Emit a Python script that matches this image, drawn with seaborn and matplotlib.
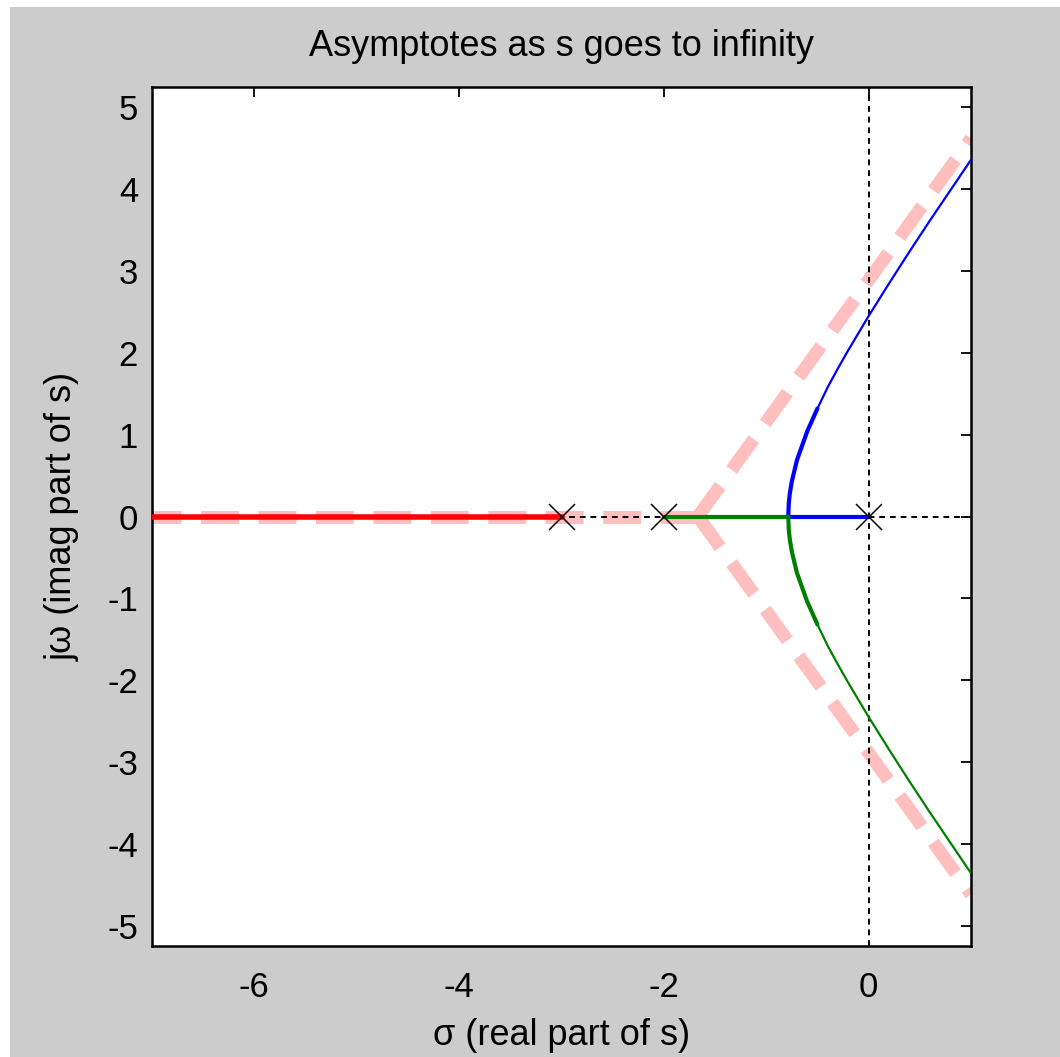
import numpy as np
import pandas as pd
import matplotlib
matplotlib.use("Agg")
import matplotlib.pyplot as plt
from matplotlib.patches import Rectangle
import seaborn as sns

# --- Data ---
poles = [0.0, -2.0, -3.0]
centroid = -1.667

# asymptotes (start at centroid, end at plot edge)
asym_x_end = [1.0, 1.0, -7.0]
asym_y_end = [4.62, -4.62, 0.0]

# real-axis segments of the locus
red_x = [-3.0, -7.0]
blue_real_x = [0.0, -0.785]
green_real_x = [-2.0, -0.785]

# complex branch (upper half)
branch_sigma = [-0.785, -0.78, -0.77, -0.75, -0.70, -0.60, -0.50, -0.40,
                -0.30, -0.20, -0.10, 0.0, 0.20, 0.40, 0.60, 0.80, 1.0]
branch_omega = [0.0, 0.16, 0.28, 0.43, 0.69, 1.04, 1.32, 1.58,
                1.81, 2.03, 2.24, 2.45, 2.85, 3.24, 3.62, 3.99, 4.36]

PINK = "#ffbfbf"
GRAY = "#cccccc"

sns.set_style("white")
plt.rcParams["font.family"] = ["Liberation Sans", "DejaVu Sans"]
plt.rcParams["axes.unicode_minus"] = False
plt.rcParams["text.color"] = "black"
plt.rcParams["axes.labelcolor"] = "black"

fig = plt.figure(figsize=(10.6, 10.57), dpi=100)
fig.patch.set_facecolor("white")
fig.patches.append(Rectangle((10 / 1060, 0), 1, 1 - 7 / 1057, transform=fig.transFigure,
                             facecolor=GRAY, edgecolor="none", zorder=-10))
ax = fig.add_axes([152 / 1060, 1 - 946 / 1057, 819 / 1060, 859 / 1057])
ax.set_facecolor("white")

# asymptotes
for xe, ye in zip(asym_x_end, asym_y_end):
    df = pd.DataFrame({"x": [centroid, xe], "y": [0.0, ye]})
    sns.lineplot(data=df, x="x", y="y", ax=ax, color=PINK, lw=9.4, sort=False,
                 estimator=None, zorder=1).lines[-1].set_dashes((2.9, 1.5))

# axis reference lines
ax.axhline(0, color="black", lw=1.4, dashes=(3, 2.5), zorder=2)
ax.axvline(0, color="black", lw=1.4, dashes=(3, 2.5), zorder=2)

# locus on the real axis
sns.lineplot(x=red_x, y=[0, 0], ax=ax, color="red", lw=4, sort=False, estimator=None, zorder=3)
sns.lineplot(x=blue_real_x, y=[0, 0], ax=ax, color="blue", lw=3, sort=False, estimator=None, zorder=3)
sns.lineplot(x=green_real_x, y=[0, 0], ax=ax, color="green", lw=3, sort=False, estimator=None, zorder=3)

# complex branches
lower = [-w for w in branch_omega]
sns.lineplot(x=branch_sigma, y=branch_omega, ax=ax, color="blue", lw=1.6, sort=False,
             estimator=None, zorder=3)
sns.lineplot(x=branch_sigma, y=lower, ax=ax, color="green", lw=1.6, sort=False,
             estimator=None, zorder=3)
sns.lineplot(x=branch_sigma[:7], y=branch_omega[:7], ax=ax, color="blue", lw=3, sort=False,
             estimator=None, zorder=3)
sns.lineplot(x=branch_sigma[:7], y=lower[:7], ax=ax, color="green", lw=3, sort=False,
             estimator=None, zorder=3)

# poles
ax.plot(poles, [0, 0, 0], linestyle="none", marker="x", color="black", ms=19, mew=1.1, zorder=4)

ax.set_xlim(-7, 1)
ax.set_ylim(-5.25, 5.25)
ax.set_xticks([-6, -4, -2, 0])
ax.set_yticks(range(-5, 6))
ax.tick_params(direction="in", length=7, width=1.3, top=True, right=True,
               labelsize=25, pad=10, colors="black")
ax.tick_params(axis="x", pad=18)
for sp in ax.spines.values():
    sp.set_visible(True)
    sp.set_color("black")
    sp.set_linewidth(1.8)

ax.set_title("Asymptotes as s goes to infinity", fontsize=26, pad=22, color="black")
ax.set_xlabel("σ (real part of s)", fontsize=26, labelpad=10)
ax.set_ylabel("jω (imag part of s)", fontsize=26, labelpad=20)

fig.savefig("out.png", dpi=100, facecolor=fig.get_facecolor())
